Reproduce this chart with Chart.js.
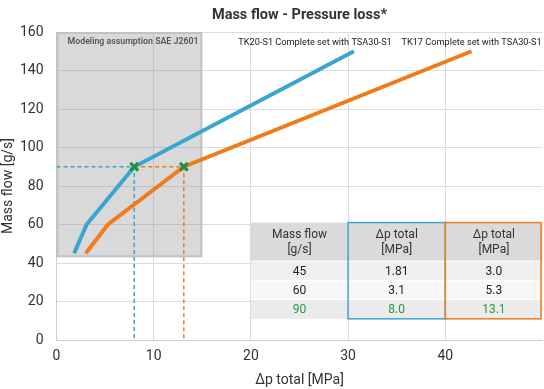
<!DOCTYPE html>
<html>
<head>
<meta charset="utf-8">
<script src="https://cdn.jsdelivr.net/npm/chart.js@4"></script>
<style>
  html, body { margin: 0; padding: 0; background: #fff; overflow: hidden; }
  #wrap { width: 551px; height: 389px; position: relative; }
</style>
</head>
<body>
<div id="wrap"><canvas id="chart"></canvas></div>
<script>
// Data
const massFlow = [45, 60, 90, 150];
const tk20Dp = [1.81, 3.1, 8.0, 30.6];
const tk17Dp = [3.0, 5.3, 13.1, 42.7];
const xTicks = [0, 10, 20, 30, 40];

// Table contents
const tableHeader = [['Mass flow', '[g/s]'], ['\u0394p total', '[MPa]'], ['\u0394p total', '[MPa]']];
const tableMassFlow = ['45', '60', '90'];
const tableTk20 = ['1.81', '3.1', '8.0'];
const tableTk17 = ['3.0', '5.3', '13.1'];

const titleText = 'Mass flow - Pressure loss*';
const tk20Label = 'TK20-S1 Complete set with TSA30-S1';
const tk17Label = 'TK17 Complete set with TSA30-S1';
const boxLabel = 'Modeling assumption SAE J2601';

const BLUE = '#3ba5d1';
const ORANGE = '#f07b1a';
const GREEN = '#1f8f43';
const FONT = 'Roboto, "Noto Sans", sans-serif';

function pts(xs, ys) {
    return xs.map((x, i) => ({ x: x, y: ys[i] }));
}

// Markers and guide lines at the 90 g/s point
const mark = 2;
const blueGuide = [{ x: 0, y: massFlow[mark] }, { x: tk20Dp[mark], y: massFlow[mark] }, { x: tk20Dp[mark], y: 0 }];
const orangeGuide = [{ x: tk20Dp[mark], y: massFlow[mark] }, { x: tk17Dp[mark], y: massFlow[mark] }, { x: tk17Dp[mark], y: 0 }];
const crosses = [{ x: tk20Dp[mark], y: massFlow[mark] }, { x: tk17Dp[mark], y: massFlow[mark] }];

const overlay = {
    id: 'overlay',
    beforeDatasetsDraw(chart) {
        const ctx = chart.ctx;
        const x = chart.scales.x, y = chart.scales.y;
        // grey modeling box
        const l = x.getPixelForValue(0), r = x.getPixelForValue(15);
        const t = y.getPixelForValue(160), b = y.getPixelForValue(43);
        ctx.save();
        ctx.fillStyle = 'rgba(150,150,150,0.36)';
        ctx.fillRect(l, t, r - l, b - t);
        ctx.strokeStyle = '#c2c2c2';
        ctx.lineWidth = 2;
        ctx.strokeRect(l + 1, t + 1, r - l - 2, b - t - 2);
        ctx.fillStyle = '#555';
        ctx.font = '600 8.8px ' + FONT;
        ctx.textBaseline = 'middle';
        ctx.fillText(boxLabel, l + 11, t + 10);
        ctx.restore();
    },
    afterDatasetsDraw(chart) {
        const ctx = chart.ctx;
        const x = chart.scales.x, y = chart.scales.y;
        const area = chart.chartArea;
        ctx.save();
        // line labels
        ctx.fillStyle = '#222';
        ctx.font = '9.2px ' + FONT;
        ctx.textAlign = 'center';
        ctx.textBaseline = 'middle';
        ctx.fillText(tk20Label, x.getPixelForValue(26.6), y.getPixelForValue(154.5));
        ctx.fillText(tk17Label, x.getPixelForValue(42.7), y.getPixelForValue(154.5));

        // table
        const cols = [20, 30, 40, 50].map(v => x.getPixelForValue(v));
        const rows = [61, 41, 31, 21, 11].map(v => y.getPixelForValue(v));
        const bgs = ['#dadada', '#efefef', '#f7f7f7', '#ebebeb'];
        for (let r = 0; r < 4; r++) {
            ctx.fillStyle = bgs[r];
            ctx.fillRect(cols[0], rows[r], cols[3] - cols[0], rows[r + 1] - rows[r]);
        }
        ctx.strokeStyle = '#ffffff';
        ctx.lineWidth = 1;
        for (let r = 1; r < 4; r++) {
            ctx.beginPath();
            ctx.moveTo(cols[0], rows[r]);
            ctx.lineTo(cols[3], rows[r]);
            ctx.stroke();
        }
        ctx.font = '12px ' + FONT;
        ctx.fillStyle = '#333';
        for (let c = 0; c < 3; c++) {
            const cx = (cols[c] + cols[c + 1]) / 2;
            const cy = (rows[0] + rows[1]) / 2;
            ctx.fillText(tableHeader[c][0], cx, cy - 7);
            ctx.fillText(tableHeader[c][1], cx, cy + 8);
        }
        const colsData = [tableMassFlow, tableTk20, tableTk17];
        for (let r = 0; r < 3; r++) {
            ctx.fillStyle = r === mark ? '#2a9a45' : '#222';
            for (let c = 0; c < 3; c++) {
                const cx = (cols[c] + cols[c + 1]) / 2;
                const cy = (rows[r + 1] + rows[r + 2]) / 2 + 1;
                ctx.fillText(colsData[c][r], cx, cy);
            }
        }
        ctx.lineWidth = 1.5;
        ctx.strokeStyle = BLUE;
        ctx.strokeRect(cols[1], rows[0], cols[2] - cols[1], rows[4] - rows[0]);
        ctx.strokeStyle = ORANGE;
        ctx.strokeRect(cols[2], rows[0], cols[3] - cols[2] - 1.5, rows[4] - rows[0]);

        // title
        ctx.fillStyle = '#333';
        ctx.font = 'bold 14.5px ' + FONT;
        ctx.fillText(titleText, (area.left + area.right) / 2, 15);
        ctx.restore();
    }
};

new Chart(document.getElementById('chart'), {
    type: 'scatter',
    data: {
        datasets: [
            { data: crosses, pointStyle: 'crossRot', pointRadius: 5.5, borderColor: GREEN, backgroundColor: GREEN, pointBorderWidth: 3, showLine: false, order: 0 },
            { label: tk20Label, data: pts(tk20Dp, massFlow), borderColor: BLUE, borderWidth: 4, pointRadius: 0, showLine: true, order: 1 },
            { label: tk17Label, data: pts(tk17Dp, massFlow), borderColor: ORANGE, borderWidth: 4, pointRadius: 0, showLine: true, order: 1 },
            { data: blueGuide, borderColor: BLUE, borderWidth: 1.5, borderDash: [4, 3], pointRadius: 0, showLine: true, order: 2 },
            { data: orangeGuide, borderColor: ORANGE, borderWidth: 1.5, borderDash: [4, 3], pointRadius: 0, showLine: true, order: 2 }
        ]
    },
    options: {
        responsive: true,
        maintainAspectRatio: false,
        animation: false,
        layout: { padding: { top: 32, right: 0, left: 0, bottom: 0 } },
        plugins: {
            legend: { display: false },
            tooltip: { enabled: false }
        },
        scales: {
            x: {
                type: 'linear',
                min: 0,
                max: 50,
                afterBuildTicks: axis => { axis.ticks = xTicks.map(v => ({ value: v })); },
                afterFit: s => { s.height = 49; s.paddingLeft = 0; s.paddingRight = 0; },
                ticks: {
                    color: '#333',
                    font: { family: FONT, size: 14 },
                    padding: 8,
                    maxRotation: 0
                },
                grid: { color: '#dcdcdc', drawTicks: false },
                border: { color: '#cfcfcf' },
                title: { display: true, text: '\u0394p total [MPa]', color: '#333', font: { family: FONT, size: 14 }, padding: { top: 7, bottom: 0 } }
            },
            y: {
                min: 0,
                max: 160,
                afterFit: s => { s.width = 56.5; s.paddingTop = 0; s.paddingBottom = 0; },
                ticks: { stepSize: 20, color: '#333', font: { family: FONT, size: 14 }, padding: 13 },
                grid: { color: '#dcdcdc', drawTicks: false },
                border: { color: '#cfcfcf' },
                title: { display: true, text: 'Mass flow [g/s]', color: '#333', font: { family: FONT, size: 14 }, padding: { top: 0, bottom: 3 } }
            }
        }
    },
    plugins: [overlay]
});
</script>
</body>
</html>
